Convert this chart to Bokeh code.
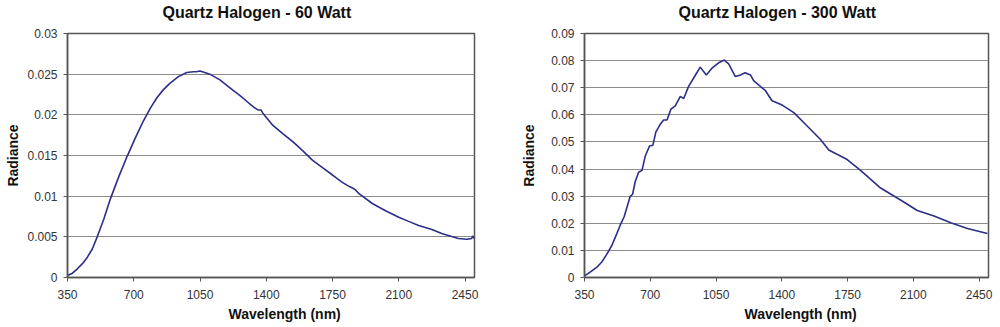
from bokeh.plotting import figure
from bokeh.models import Range1d, FixedTicker, Title
from bokeh.layouts import row
from bokeh.embed import file_html
from bokeh.resources import INLINE

# ---- data ----
wl_60 = [350, 376, 402, 429, 455, 481, 507, 542, 577, 621, 665, 709, 752, 787, 822,
         857, 892, 936, 980, 1015, 1030, 1050, 1075, 1102, 1155, 1225, 1260, 1295,
         1330, 1356, 1372, 1382, 1435, 1487, 1540, 1592, 1645, 1697, 1750, 1802,
         1830, 1855, 1870, 1890, 1960, 2030, 2100, 2152, 2205, 2275, 2327, 2415,
         2460, 2485, 2490, 2500]
rad_60 = [0.00025, 0.00053, 0.00107, 0.0017, 0.0025, 0.0035, 0.0050, 0.0072, 0.0097,
          0.0124, 0.0149, 0.0172, 0.0193, 0.0208, 0.0221, 0.0231, 0.0239, 0.0247,
          0.0252, 0.0253, 0.0253, 0.0254, 0.0252, 0.0250, 0.0243, 0.0230, 0.0224,
          0.0217, 0.0210, 0.0206, 0.0206, 0.0202, 0.0187, 0.0177, 0.0167, 0.0156,
          0.0144, 0.0135, 0.0126, 0.0117, 0.0113, 0.0110, 0.0108, 0.0103, 0.0091,
          0.0082, 0.0074, 0.0069, 0.0064, 0.0059, 0.0054, 0.0048, 0.0047, 0.0048,
          0.0051, 0.0048]

wl_300 = [350, 380, 416, 442, 469, 496, 522, 540, 561, 576, 593, 606, 620, 638, 656,
          673, 696, 714, 730, 753, 771, 789, 810, 833, 860, 878, 904, 939, 966, 998,
          1028, 1064, 1094, 1117, 1153, 1180, 1205, 1233, 1250, 1313, 1348, 1402,
          1464, 1535, 1606, 1650, 1748, 1819, 1926, 2032, 2121, 2210, 2299, 2388, 2494]
rad_300 = [0.0006, 0.0020, 0.0038, 0.0057, 0.0086, 0.0119, 0.0162, 0.0193, 0.0224,
           0.0259, 0.0299, 0.0307, 0.0354, 0.0388, 0.0395, 0.0447, 0.0485, 0.0488,
           0.0537, 0.0565, 0.0581, 0.0581, 0.0621, 0.0633, 0.0668, 0.0660, 0.0705,
           0.0745, 0.0776, 0.0747, 0.0772, 0.0792, 0.0802, 0.0788, 0.0741, 0.0747,
           0.0755, 0.0747, 0.0726, 0.0689, 0.0652, 0.0636, 0.0608, 0.0559, 0.0509,
           0.0470, 0.0435, 0.0395, 0.0330, 0.0286, 0.0247, 0.0227, 0.0202, 0.0181,
           0.0162]

x_ticks = [350, 700, 1050, 1400, 1750, 2100, 2450]
y_ticks_60 = [0, 0.005, 0.01, 0.015, 0.02, 0.025, 0.03]
y_labels_60 = ["0", "0.005", "0.01", "0.015", "0.02", "0.025", "0.03"]
y_ticks_300 = [0, 0.01, 0.02, 0.03, 0.04, 0.05, 0.06, 0.07, 0.08, 0.09]
y_labels_300 = ["0", "0.01", "0.02", "0.03", "0.04", "0.05", "0.06", "0.07", "0.08", "0.09"]

titles = ["Quartz Halogen - 60 Watt", "Quartz Halogen - 300 Watt"]
x_label = "Wavelength (nm)"
y_label = "Radiance"

FONT = "Liberation Sans"
LINE = "#2d2d8a"


def make(title, wl, rad, yticks, ylabels, ymax, left, right, t_off, xl_off, yl_stand):
    p = figure(width=500, height=327, output_backend="svg", toolbar_location=None,
               x_range=Range1d(350, 2500), y_range=Range1d(0, ymax),
               min_border_left=left, min_border_right=right,
               min_border_top=33, min_border_bottom=50)
    p.background_fill_color = "white"
    p.border_fill_color = "white"
    p.outline_line_color = "#555555"
    p.outline_line_width = 1.5

    # spacer between frame and title, then the title itself
    spacer = Title(text=" ", text_font_size="1px", standoff=10)
    p.add_layout(spacer, "above")
    ttl = Title(text=title, align="left", offset=t_off, text_font=FONT,
                text_font_size="16px", text_font_style="bold", text_color="#111111",
                standoff=0)
    p.add_layout(ttl, "above")

    p.line(wl, rad, line_color=LINE, line_width=1.6)

    p.xaxis.ticker = FixedTicker(ticks=x_ticks)
    p.yaxis.ticker = FixedTicker(ticks=yticks)
    p.yaxis.major_label_overrides = {t: l for t, l in zip(yticks, ylabels)}
    for ax in (p.xaxis, p.yaxis):
        ax.axis_line_color = "#555555"
        ax.axis_line_width = 1.5
        ax.major_tick_line_color = "#555555"
        ax.major_tick_out = 4
        ax.major_tick_in = 0
        ax.minor_tick_line_color = None
        ax.major_label_text_font = FONT
        ax.major_label_text_font_size = "12px"
        ax.major_label_text_color = "#333333"
    p.yaxis.major_label_standoff = 6
    p.xaxis.major_label_standoff = 8

    p.yaxis.axis_label = y_label
    p.yaxis.axis_label_text_font = FONT
    p.yaxis.axis_label_text_font_size = "14px"
    p.yaxis.axis_label_text_font_style = "bold"
    p.yaxis.axis_label_text_color = "#111111"
    p.yaxis.axis_label_standoff = yl_stand

    p.xgrid.grid_line_color = None
    p.ygrid.grid_line_color = "#8c8c8c"
    p.ygrid.grid_line_width = 1

    xt = Title(text=x_label, align="left", offset=xl_off, text_font=FONT,
               text_font_size="14px", text_font_style="bold", text_color="#111111",
               standoff=4)
    p.add_layout(xt, "below")
    return p


p1 = make(titles[0], wl_60, rad_60, y_ticks_60, y_labels_60, 0.03, 67, 26, 95, 161, 3)
p2 = make(titles[1], wl_300, rad_300, y_ticks_300, y_labels_300, 0.09, 84, 12, 94, 160, 11)

layout = row(p1, p2)
open("out.html", "w").write(file_html(layout, INLINE))
